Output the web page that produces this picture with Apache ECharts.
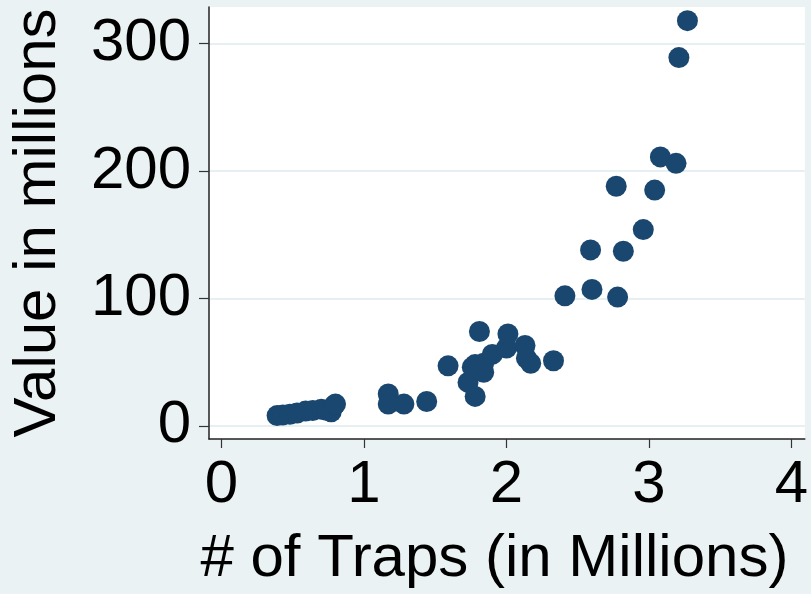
<!DOCTYPE html>
<html>
<head>
<meta charset="utf-8">
<script src="https://cdn.jsdelivr.net/npm/echarts@6/dist/echarts.min.js"></script>
<style>
  html, body { margin: 0; padding: 0; background: #eaf2f3; }
  #main { width: 811px; height: 594px; }
</style>
</head>
<body>
<div id="main"></div>
<script>
// traps (millions) vs value (millions)
const traps = [
  0.39, 0.43, 0.48, 0.53, 0.59, 0.64, 0.70, 0.74, 0.77, 0.79, 0.80,
  1.17, 1.17, 1.28, 1.44,
  1.59, 1.73, 1.76, 1.78, 1.78, 1.81, 1.84, 1.84, 1.90, 2.00, 2.01, 2.13, 2.14, 2.17, 2.33,
  2.41, 2.59, 2.60, 2.77, 2.78, 2.82, 2.96, 3.04, 3.08, 3.19, 3.21, 3.27
]
const values = [
  8, 8.5, 9, 10, 11.5, 12, 13, 12, 11, 16, 17,
  25, 17, 17, 19,
  47, 34, 46, 48, 23, 74, 42, 49, 56, 61, 72, 63, 53, 49, 51,
  102, 138, 107, 188, 101, 137, 154, 185, 211, 206, 289, 318
]
const xTicks = [0, 1, 2, 3, 4]
const yTicks = [0, 100, 200, 300]

const points = traps.map((t, i) => [t, values[i]])

const font = 'Liberation Sans, Arial, sans-serif'
const chart = echarts.init(document.getElementById('main'))
chart.setOption({
  backgroundColor: '#eaf2f3',
  animation: false,
  grid: {
    left: 203, right: 2, top: 7, bottom: 152,
    show: true, backgroundColor: '#ffffff', borderWidth: 0
  },
  xAxis: {
    type: 'value',
    min: -0.088,
    max: 4.094,
    name: '# of Traps (in Millions)',
    nameLocation: 'middle',
    nameGap: 90,
    nameTextStyle: { fontFamily: font, fontSize: 60, color: '#000', padding: [0, 25, 0, 0] },
    axisLine: { show: true, onZero: false, lineStyle: { color: '#222', width: 1.5 } },
    axisTick: { show: true, length: 9, customValues: xTicks, lineStyle: { color: '#333', width: 1.2 } },
    axisLabel: { customValues: xTicks, fontFamily: font, fontSize: 60, color: '#000', margin: 16 },
    splitLine: { show: false }
  },
  yAxis: {
    type: 'value',
    min: -10.4,
    max: 328.7,
    name: 'Value in millions',
    nameLocation: 'middle',
    nameGap: 141,
    nameTextStyle: { fontFamily: font, fontSize: 60, color: '#000' },
    axisLine: { show: true, onZero: false, lineStyle: { color: '#222', width: 1.5 } },
    axisTick: { show: true, length: 10, customValues: yTicks, lineStyle: { color: '#333', width: 1.2 } },
    axisLabel: { customValues: yTicks, fontFamily: font, fontSize: 60, color: '#000', margin: 18 },
    splitLine: { show: true, lineStyle: { color: '#e6eff1', width: 2 } }
  },
  series: [
    {
      type: 'scatter',
      data: points,
      symbol: 'circle',
      symbolSize: 21,
      itemStyle: { color: '#1a476f', opacity: 1 }
    }
  ]
})
</script>
</body>
</html>
